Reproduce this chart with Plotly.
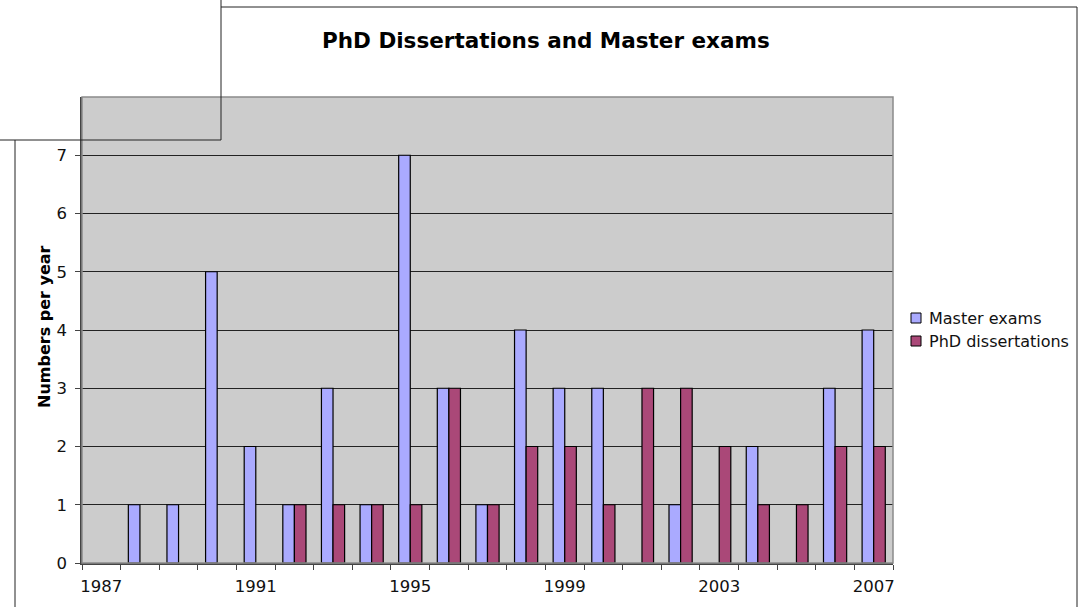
import plotly.graph_objects as go

years = list(range(1987, 2008))
master_exams = [0, 1, 1, 5, 2, 1, 3, 1, 7, 3, 1, 4, 3, 3, 0, 1, 0, 2, 0, 3, 4]
phd_dissertations = [0, 0, 0, 0, 0, 1, 1, 1, 1, 3, 1, 2, 2, 1, 3, 3, 2, 1, 1, 2, 2]
series_names = ["Master exams", "PhD dissertations"]
series_colors = ["#AAAAFF", "#AA4878"]
x_tick_labels = [1987, 1991, 1995, 1999, 2003, 2007]
y_tick_labels = [0, 1, 2, 3, 4, 5, 6, 7]

W, H = 1079, 607
L, R, T, B = 82, 893, 97, 563


def px(x):
    return (x - L) / (R - L)


def py(y):
    return (B - y) / (B - T)


FONT = "DejaVu Sans, Verdana, sans-serif"


def outline(values):
    return [1.2 if v > 0 else 0 for v in values]


fig = go.Figure()
for name, vals, col in zip(series_names, [master_exams, phd_dissertations], series_colors):
    fig.add_trace(go.Bar(x=years, y=vals, name=name, showlegend=False,
                         marker=dict(color=col,
                                     line=dict(color="#000000", width=outline(vals)))))

shapes = []
# plot area border
shapes.append(dict(type="rect", xref="paper", yref="paper", x0=0, x1=1, y0=0, y1=1,
                   line=dict(color="#8A8A8A", width=1.5), layer="above"))
# outer chart frame
for (x0, y0, x1, y1) in [(15, 140, 15, 610), (221, 7, 1077, 7), (1077, 7, 1077, 610),
                         (0, 140, 221, 140), (221, 0, 221, 140)]:
    shapes.append(dict(type="line", xref="paper", yref="paper",
                       x0=px(x0), x1=px(x1), y0=py(y0), y1=py(y1),
                       line=dict(color="#222222", width=1)))

annotations = [
    dict(text="<b>PhD Dissertations and Master exams</b>", xref="paper", yref="paper",
         x=px(546), y=py(40), xanchor="center", yanchor="middle", showarrow=False,
         font=dict(family=FONT, size=21.5, color="#000000")),
    dict(text="<b>Numbers per year</b>", xref="paper", yref="paper",
         x=px(44), y=py(327), xanchor="center", yanchor="middle", showarrow=False,
         textangle=-90, font=dict(family=FONT, size=16, color="#000000")),
]

# legend (drawn manually so it sits exactly where the original one does)
for i, (name, col) in enumerate(zip(series_names, series_colors)):
    cy = 318 + 23 * i
    shapes.append(dict(type="rect", xref="paper", yref="paper",
                       x0=px(911), x1=px(921), y0=py(cy - 5), y1=py(cy + 5),
                       fillcolor=col, line=dict(color="#000000", width=1)))
    annotations.append(dict(text=name, xref="paper", yref="paper",
                            x=px(927), y=py(cy), xanchor="left", yanchor="middle",
                            showarrow=False,
                            font=dict(family=FONT, size=16, color="#111111")))

fig.update_layout(
    width=W, height=H,
    margin=dict(l=L, r=W - R, t=T, b=H - B, pad=0, autoexpand=False),
    paper_bgcolor="white",
    plot_bgcolor="#CCCCCC",
    barmode="group", bargap=0.4, bargroupgap=0,
    font=dict(family=FONT, size=16, color="#111111"),
    showlegend=False,
    shapes=shapes,
    annotations=annotations,
)

fig.update_xaxes(
    range=[1986.5, 2007.5], automargin=False,
    tickmode="array", tickvals=x_tick_labels, ticktext=[str(v) for v in x_tick_labels],
    ticks="", showgrid=False, zeroline=False,
    showline=True, linecolor="#444444", linewidth=1.5,
    tickfont=dict(size=16.5),
    ticklabelstandoff=7,
    minor=dict(tick0=1986.5, dtick=1, ticks="outside", ticklen=5, tickcolor="#444444",
               tickwidth=1, showgrid=False),
)
fig.update_yaxes(
    range=[0, 8], automargin=False,
    tickmode="array", tickvals=y_tick_labels, ticktext=[str(v) for v in y_tick_labels],
    ticks="outside", ticklen=5, tickcolor="#444444", tickwidth=1,
    showgrid=True, gridcolor="#222222", gridwidth=1,
    zeroline=False, showline=True, linecolor="#444444", linewidth=1.5,
    tickfont=dict(size=16.5),
    ticklabelstandoff=5,
)

fig.write_html("out.html", config={"displayModeBar": False},
               post_script="document.body.style.margin='0px';")
